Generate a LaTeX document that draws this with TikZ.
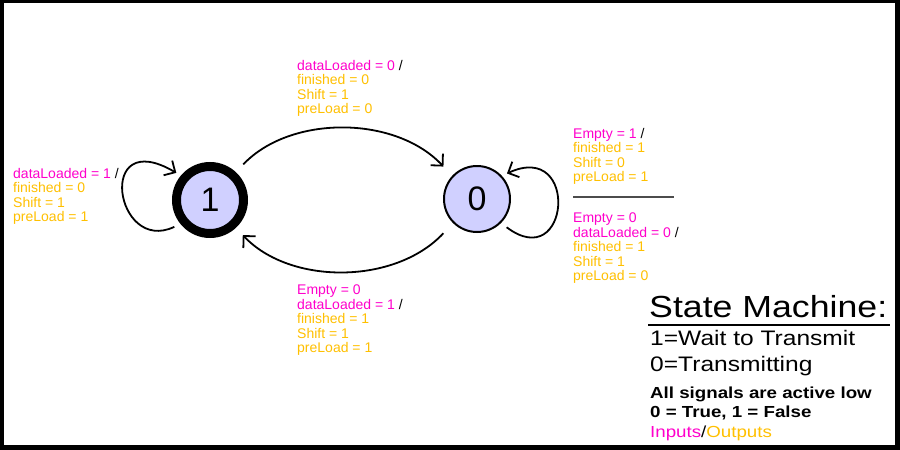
\documentclass[tikz,border=0pt]{standalone}
\usepackage{fontspec}
\setmainfont{Liberation Sans}
\newfontfamily\legendfont[FakeStretch=1.17]{Liberation Sans}
\usetikzlibrary{arrows.meta}
\definecolor{inpink}{RGB}{255,0,204}
\definecolor{outgold}{RGB}{255,192,0}
\definecolor{statefill}{RGB}{208,208,255}
\newcommand{\insig}[1]{\textcolor{inpink}{#1}}
\newcommand{\outsig}[1]{\textcolor{outgold}{#1}}

\begin{document}
\begin{tikzpicture}[x=1pt,y=-1pt,
    state/.style={circle,draw,fill=statefill,inner sep=0pt,font=\fontsize{34}{34}\selectfont},
    trans/.style={line width=1.8pt,-{Straight Barb[length=8.5pt,width=17pt]}},
    sigs/.style={anchor=north west,inner sep=0pt,align=left,font=\fontsize{14}{14.5}\selectfont},
    legend/.style={anchor=base west,inner sep=0pt}]
    \fill[black] (0,0) rectangle (900,450);
    \fill[white] (4,3) rectangle (895,445);

    \node[state,line width=9pt,minimum size=67pt] (one) at (210,200) {1};
    \node[state,line width=2pt,minimum size=66pt] (zero) at (477,199) {0};

    \draw[trans,shorten <=10.8pt,shorten >=12.7pt] (one.47) .. controls (290,115) and (395,115) .. (zero.137);
    \draw[trans,shorten <=14pt,shorten >=10pt] (zero.225) .. controls (395,285) and (290,285) .. (one.313);
    \draw[trans,shorten <=6.8pt,shorten >=5.3pt] (one.219) .. controls (115,255) and (95,125) .. (one.140);
    \draw[trans,shorten <=7pt,shorten >=5.6pt] (zero.315) .. controls (570,275) and (580,140) .. (zero.43);

    \node[sigs] (oneloop) at (13,168) {\insig{dataLoaded = 1} /\\ \outsig{finished = 0}\\ \outsig{Shift = 1}\\ \outsig{preLoad = 1}};
    \node[sigs] (gotx) at (297,60) {\insig{dataLoaded = 0} /\\ \outsig{finished = 0}\\ \outsig{Shift = 1}\\ \outsig{preLoad = 0}};
    \node[sigs] (zeroloopa) at (573,128) {\insig{Empty = 1} /\\ \outsig{finished = 1}\\ \outsig{Shift = 0}\\ \outsig{preLoad = 1}};
    \node[sigs] (zeroloopb) at (573,213) {\insig{Empty = 0}\\ \insig{dataLoaded = 0} /\\ \outsig{finished = 1}\\ \outsig{Shift = 1}\\ \outsig{preLoad = 0}};
    \node[sigs] (gowait) at (297,285) {\insig{Empty = 0}\\ \insig{dataLoaded = 1} /\\ \outsig{finished = 1}\\ \outsig{Shift = 1}\\ \outsig{preLoad = 1}};
    \draw[line width=1.3pt,black!70] (573,197) -- (674,197);

    \node[legend,font=\legendfont\fontsize{30.5}{30}\selectfont] (title) at (649,317) {State Machine:};
    \draw[line width=2.5pt] (648,325) -- (890,325);
    \node[legend,font=\legendfont\fontsize{21}{21}\selectfont] (waitline) at (650,345) {1=Wait to Transmit};
    \node[legend,font=\legendfont\fontsize{21}{21}\selectfont] (txline) at (650,371) {0=Transmitting};
    \node[legend,font=\legendfont\bfseries\fontsize{16}{16}\selectfont] (lowline) at (650,398) {All signals are active low};
    \node[legend,font=\legendfont\bfseries\fontsize{16}{16}\selectfont] (truthline) at (650,417) {0 = True, 1 = False};
    \node[legend,font=\legendfont\fontsize{16}{16}\selectfont] (keyline) at (650,437) {\insig{Inputs}/\outsig{Outputs}};
\end{tikzpicture}
\end{document}
